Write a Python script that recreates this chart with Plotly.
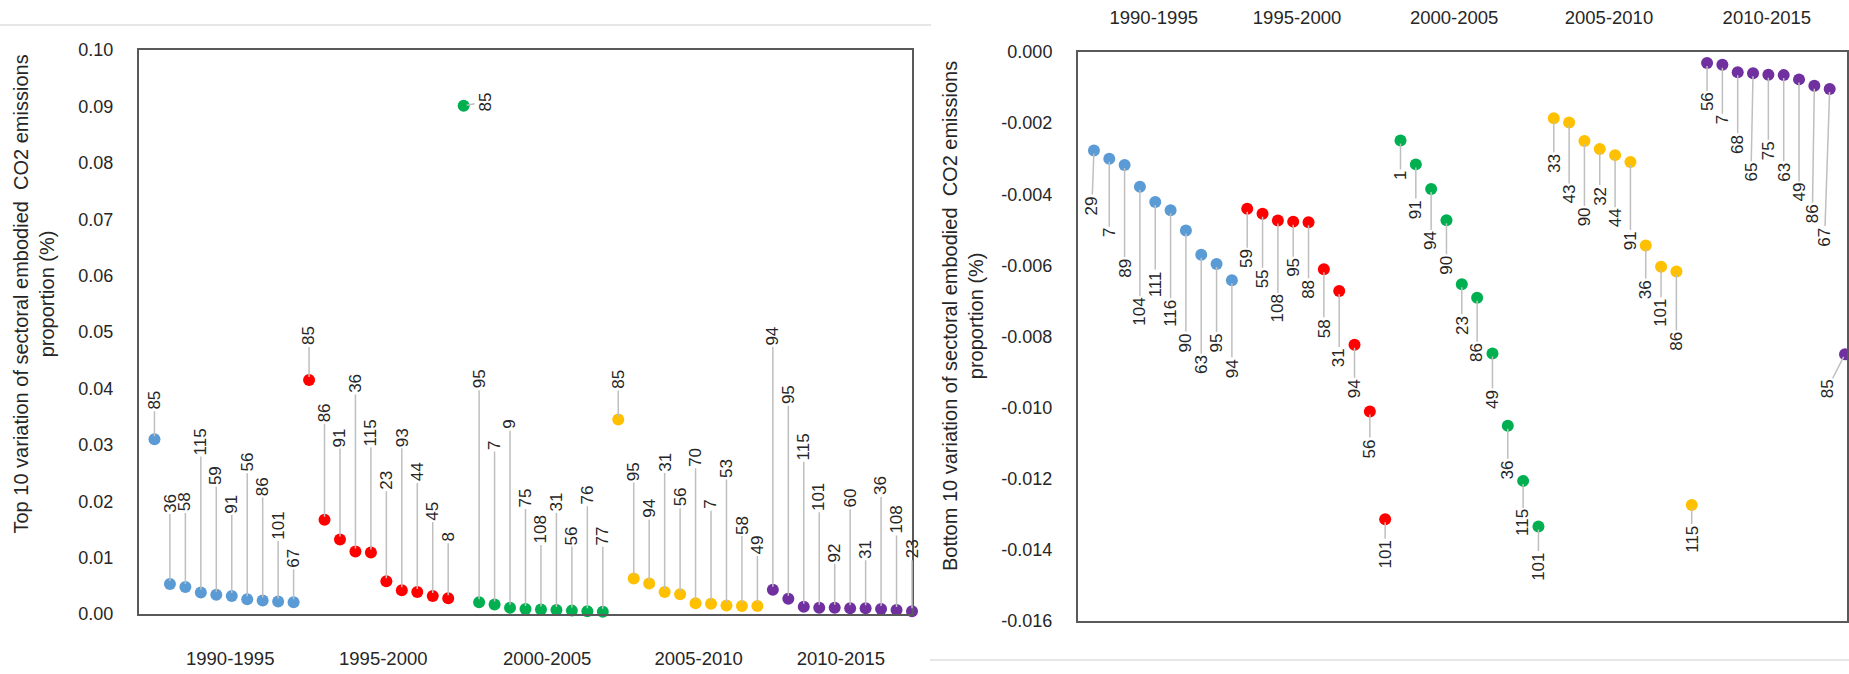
import plotly.graph_objects as go

W, H = 1849, 674

periods = ["1990-1995", "1995-2000", "2000-2005", "2005-2010", "2010-2015"]
colors = ["#5B9BD5", "#FF0000", "#00B050", "#FFC000", "#7030A0"]

# ---- Top 10 (left panel) ----
top_sectors = [
    [85, 36, 58, 115, 59, 91, 56, 86, 101, 67],
    [85, 86, 91, 36, 115, 23, 93, 44, 45, 8],
    [85, 95, 7, 9, 75, 108, 31, 56, 76, 77],
    [85, 95, 94, 31, 56, 70, 7, 53, 58, 49],
    [94, 95, 115, 101, 92, 60, 31, 36, 108, 23],
]
top_1990_1995 = [0.0310, 0.0053, 0.0048, 0.0038, 0.0034, 0.0032, 0.0026, 0.0024, 0.0022, 0.0021]
top_1995_2000 = [0.0415, 0.0167, 0.0132, 0.0111, 0.0109, 0.0058, 0.0042, 0.0039, 0.0032, 0.0028]
top_2000_2005 = [0.0901, 0.0021, 0.0017, 0.0011, 0.0009, 0.0008, 0.0007, 0.0006, 0.0005, 0.0004]
top_2005_2010 = [0.0345, 0.0063, 0.0054, 0.0039, 0.0035, 0.0019, 0.0018, 0.0015, 0.0014, 0.0014]
top_2010_2015 = [0.0043, 0.0027, 0.0013, 0.0011, 0.0011, 0.0010, 0.0010, 0.0009, 0.0007, 0.0005]
top_values = [top_1990_1995, top_1995_2000, top_2000_2005, top_2005_2010, top_2010_2015]

# ---- Bottom 10 (right panel) ----
bottom_sectors = [
    [29, 7, 89, 104, 111, 116, 90, 63, 95, 94],
    [59, 55, 108, 95, 88, 58, 31, 94, 56, 101],
    [1, 91, 94, 90, 23, 86, 49, 36, 115, 101],
    [33, 43, 90, 32, 44, 91, 36, 101, 86, 115],
    [56, 7, 68, 65, 75, 63, 49, 86, 67, 85],
]
bot_1990_1995 = [-0.00277, -0.00300, -0.00318, -0.00379, -0.00422, -0.00445, -0.00502, -0.00570, -0.00596, -0.00642]
bot_1995_2000 = [-0.00441, -0.00455, -0.00474, -0.00477, -0.00479, -0.00611, -0.00672, -0.00823, -0.01011, -0.01314]
bot_2000_2005 = [-0.00249, -0.00316, -0.00385, -0.00473, -0.00653, -0.00691, -0.00848, -0.01051, -0.01206, -0.01334]
bot_2005_2010 = [-0.00186, -0.00198, -0.00250, -0.00273, -0.00290, -0.00309, -0.00544, -0.00604, -0.00617, -0.01274]
bot_2010_2015 = [-0.00031, -0.00036, -0.00057, -0.00060, -0.00064, -0.00065, -0.00077, -0.00095, -0.00104, -0.00850]
bottom_values = [bot_1990_1995, bot_1995_2000, bot_2000_2005, bot_2005_2010, bot_2010_2015]

left_ticks = [0.00, 0.01, 0.02, 0.03, 0.04, 0.05, 0.06, 0.07, 0.08, 0.09, 0.10]
right_ticks = [0.000, -0.002, -0.004, -0.006, -0.008, -0.010, -0.012, -0.014, -0.016]
right_tick_text = ["0.000", "-0.002", "-0.004", "-0.006", "-0.008", "-0.010", "-0.012", "-0.014", "-0.016"]

# ---- label placement (layout only, pixel offsets of the leader lines) ----
top_label_dy = [
    [-39, -81, -85, -151, -119, -92, -137, -114, -76, -44],
    [-44, -107, -102, -168, -120, -101, -153, -120, -85, -61],
    [-4, -223, -159, -183, -111, -80, -108, -75, -116, -76],
    [-40, -107, -75, -130, -97, -146, -99, -137, -81, -61],
    [-254, -204, -160, -111, -55, -110, -59, -123, -90, -62],
]
top_label_dx = [[0] * 10 for _ in range(5)]
top_label_dx[2][0] = 22
bottom_label_dy = [
    [55, 74, 103, 125, 82, 103, 112, 110, 79, 88],
    [50, 65, 88, 46, 67, 59, 67, 44, 37, 35],
    [35, 45, 52, 45, 41, 55, 46, 44, 42, 40],
    [45, 72, 76, 47, 63, 79, 44, 46, 70, 34],
    [39, 55, 72, 99, 76, 97, 113, 128, 148, 35],
]
bottom_label_dx = [[0] * 10 for _ in range(5)]
bottom_label_dx[0][0] = -2
bottom_label_dx[4][3] = -2
bottom_label_dx[4][7] = -2
bottom_label_dx[4][8] = -5
bottom_label_dx[4][9] = -18

left_cat_pos = [4.9, 14.8, 25.4, 35.2, 44.4]
right_cat_pos = [3.9, 13.25, 23.5, 33.6, 43.9]

FONT = "Liberation Sans, Arial, sans-serif"
TXT = "#262626"
LINE = "#BFBFBF"

fig = go.Figure()
annotations = []

def add_panel(values_groups, sectors_groups, dys, dxs, xref, yref):
    idx = 0
    for g, (vals, secs) in enumerate(zip(values_groups, sectors_groups)):
        xs = list(range(idx, idx + len(vals)))
        fig.add_trace(go.Scatter(
            x=xs, y=vals, mode="markers", xaxis=xref, yaxis=yref,
            marker=dict(size=12, color=colors[g]), cliponaxis=False,
            hoverinfo="skip", showlegend=False))
        for k, (xv, yv, s) in enumerate(zip(xs, vals, secs)):
            annotations.append(dict(
                x=xv, y=yv, xref=xref, yref=yref, text=str(s),
                showarrow=True, arrowhead=0, arrowwidth=1.5, arrowcolor=LINE,
                ax=dxs[g][k], ay=dys[g][k], standoff=3, startstandoff=0,
                textangle=-90, font=dict(family=FONT, size=17, color=TXT),
                borderpad=1))
        idx += len(vals)

add_panel(top_values, top_sectors, top_label_dy, top_label_dx, "x", "y")
add_panel(bottom_values, bottom_sectors, bottom_label_dy, bottom_label_dx, "x2", "y2")

# axis titles
annotations.append(dict(
    x=33.5 / W, y=1 - 294 / H, xref="paper", yref="paper", showarrow=False,
    xanchor="center", yanchor="middle",
    text="Top 10 variation of sectoral embodied\u00a0 CO2 emissions<br>proportion (%)",
    textangle=-90, font=dict(family=FONT, size=20, color=TXT)))
annotations.append(dict(
    x=963 / W, y=1 - 316 / H, xref="paper", yref="paper", showarrow=False,
    xanchor="center", yanchor="middle",
    text="Bottom 10 variation of sectoral embodied\u00a0 CO2 emissions<br>proportion (%)",
    textangle=-90, font=dict(family=FONT, size=20, color=TXT)))

axis_common = dict(showline=True, mirror=True, linecolor="#595959", linewidth=2,
                   showgrid=False, zeroline=False, automargin=False,
                   tickfont=dict(family=FONT, size=18, color=TXT))
cat_font = dict(family=FONT, size=18.5, color=TXT)

fig.update_layout(
    width=W, height=H, autosize=False,
    margin=dict(l=0, r=0, t=0, b=0, pad=0),
    paper_bgcolor="white", plot_bgcolor="white", showlegend=False,
    annotations=annotations,
    xaxis=dict(domain=[139 / W, 912 / W], range=[-1, 49], anchor="y",
               tickvals=left_cat_pos, ticktext=periods, ticks="",
               ticklabelstandoff=27, **{**axis_common, "tickfont": cat_font}),
    yaxis=dict(domain=[1 - 614 / H, 1 - 50 / H], range=[0, 0.10], anchor="x",
               tickvals=left_ticks, tickformat=".2f", ticks="",
               ticklabelstandoff=20, **axis_common),
    xaxis2=dict(domain=[1078 / W, 1847 / W], range=[-1.04, 49.13], anchor="y2", side="top",
                tickvals=right_cat_pos, ticktext=periods, ticks="",
                ticklabelstandoff=19, **{**axis_common, "tickfont": cat_font}),
    yaxis2=dict(domain=[1 - 621 / H, 1 - 52 / H], range=[-0.016, 0], anchor="x2",
                tickvals=right_ticks, ticktext=right_tick_text, ticks="",
                ticklabelstandoff=20, **axis_common),
    shapes=[
        dict(type="line", xref="paper", yref="paper", x0=0, x1=931 / W,
             y0=1 - 25 / H, y1=1 - 25 / H, line=dict(color="#E6E6E6", width=2)),
        dict(type="line", xref="paper", yref="paper", x0=930 / W, x1=1,
             y0=1 - 660 / H, y1=1 - 660 / H, line=dict(color="#E6E6E6", width=2)),
    ],
)

fig.write_html("out.html")
